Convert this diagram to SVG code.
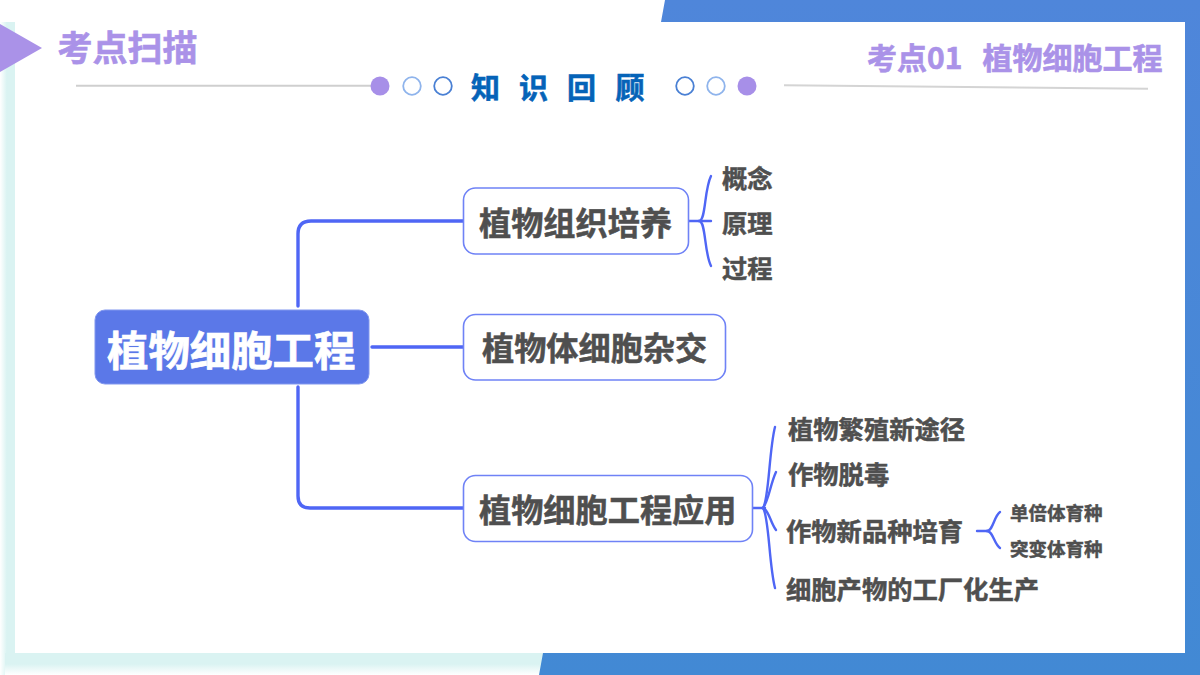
<svg xmlns="http://www.w3.org/2000/svg" width="1200" height="675" viewBox="0 0 1200 675">
<style>
text{font-family:"Noto Sans CJK SC","Noto Sans",sans-serif;font-weight:700}
.node{fill:#fff;stroke:#6F82F6;stroke-width:1.6}
.main{fill:none;stroke:#4F66F5;stroke-width:3.4;stroke-linecap:round}
.brace{fill:none;stroke:#4F66F5;stroke-width:2.4;stroke-linecap:round}
.label{fill:#4F4F4F;stroke:#4F4F4F;stroke-width:.5;text-anchor:start}
.l1{font-size:32.2px}
.l2{font-size:25.3px}
.l3{font-size:18.5px}
.head{fill:#AA92E8;stroke:#AA92E8;stroke-width:.6}
.blue{fill:#0563B8;stroke:#0563B8;stroke-width:.6;font-size:29px}
.fillDot{fill:#A78FE8}
.ringA{fill:#fff;stroke:#8FB4EC;stroke-width:1.8}
.ringB{fill:#fff;stroke:#4A80D4;stroke-width:1.8}
</style>
<defs>
<linearGradient id="fadeL" x1="0" x2="1" y1="0" y2="0"><stop offset="0" stop-color="#fff"/><stop offset="0.45" stop-color="#DAF3F2"/><stop offset="1" stop-color="#DAF3F2"/></linearGradient>
<linearGradient id="fadeB" x1="0" x2="0" y1="0" y2="1"><stop offset="0" stop-color="#DAF3F2"/><stop offset="0.5" stop-color="#DAF3F2"/><stop offset="1" stop-color="#fff"/></linearGradient>
<linearGradient id="blueR" x1="0" x2="0" y1="0" y2="1"><stop offset="0" stop-color="#4F86DA"/><stop offset="1" stop-color="#4289D4"/></linearGradient>
</defs>
<rect width="1200" height="675" fill="#fff"/>
<rect x="0" y="22" width="15" height="653" fill="url(#fadeL)"/>
<rect x="5" y="653" width="540" height="22" fill="url(#fadeB)"/>
<polygon points="665,0 1200,0 1200,675 539,675 543,653 1185,653 1185,22 661,22" fill="url(#blueR)"/>
<polygon points="0,24 42,48 0,72" fill="#AA92E8"/>
<text class="head" x="57.5" y="61" font-size="35">考点扫描</text>
<text class="head" x="867" y="69" font-size="30">考点01</text>
<text class="head" x="982.5" y="69" font-size="30">植物细胞工程</text>
<line x1="76" y1="85.7" x2="372" y2="85.7" stroke="#CFCFCF" stroke-width="2"/>
<line x1="784" y1="85.3" x2="1148" y2="88.8" stroke="#D4D4D4" stroke-width="2"/>
<circle class="fillDot" cx="380" cy="86" r="9.5"/>
<circle class="ringA" cx="412" cy="86" r="8.8"/>
<circle class="ringB" cx="443" cy="86" r="8.8"/>
<text class="blue" x="471" y="99">知</text>
<text class="blue" x="519" y="99">识</text>
<text class="blue" x="567" y="99">回</text>
<text class="blue" x="615.5" y="99">顾</text>
<circle class="ringB" cx="685" cy="86" r="8.8"/>
<circle class="ringA" cx="716" cy="86" r="8.8"/>
<circle class="fillDot" cx="747" cy="86" r="9.5"/>
<g id="connectors">
<path class="main" d="M298,306V234Q298,221 311,221H463"/>
<path class="main" d="M372,347H463"/>
<path class="main" d="M298,387V496Q298,508 310,508H463"/>
<path class="brace" d="M688,221H711"/>
<path class="brace" d="M699,221C706,221 704,190 711,176"/>
<path class="brace" d="M699,221C706,221 704,252 711,266"/>
<path class="brace" d="M753,508H765"/>
<path class="brace" d="M763,508C769,500 769,450 775,427"/>
<path class="brace" d="M763,508C769,500 770,485 776,472"/>
<path class="brace" d="M763,508C769,510 770,522 776,530"/>
<path class="brace" d="M763,508C769,516 769,565 775,588"/>
<path class="brace" d="M977,531H989"/>
<path class="brace" d="M987,531C993,531 994,516 1000,512"/>
<path class="brace" d="M987,531C993,531 994,544 1000,548"/>
</g>
<g id="root"><rect x="95" y="310" width="274" height="74" rx="10" fill="#5B78E8" stroke="#8197EE" stroke-width="1"/><text x="107" y="366" font-size="41.4" fill="#fff" stroke="#fff" stroke-width=".7">植物细胞工程</text></g>
<g id="n1"><rect class="node" x="463.5" y="188" width="225" height="66" rx="12"/><text class="label l1" x="479" y="235">植物组织培养</text></g>
<g id="n2"><rect class="node" x="463.5" y="314.5" width="262" height="65.5" rx="12"/><text class="label l1" x="482" y="360">植物体细胞杂交</text></g>
<g id="n3"><rect class="node" x="463.5" y="475.5" width="289" height="66" rx="12"/><text class="label l1" x="479" y="522">植物细胞工程应用</text></g>
<g id="n1a"><text class="label l2" x="722" y="188">概念</text></g>
<g id="n1b"><text class="label l2" x="722" y="232.5">原理</text></g>
<g id="n1c"><text class="label l2" x="722" y="277.5">过程</text></g>
<g id="n3a"><text class="label l2" x="788" y="438.5">植物繁殖新途径</text></g>
<g id="n3b"><text class="label l2" x="788" y="483.5">作物脱毒</text></g>
<g id="n3c"><text class="label l2" x="786" y="541">作物新品种培育</text></g>
<g id="n3d"><text class="label l2" x="786" y="599">细胞产物的工厂化生产</text></g>
<g id="n3c1"><text class="label l3" x="1010" y="520">单倍体育种</text></g>
<g id="n3c2"><text class="label l3" x="1010" y="556">突变体育种</text></g>
</svg>
